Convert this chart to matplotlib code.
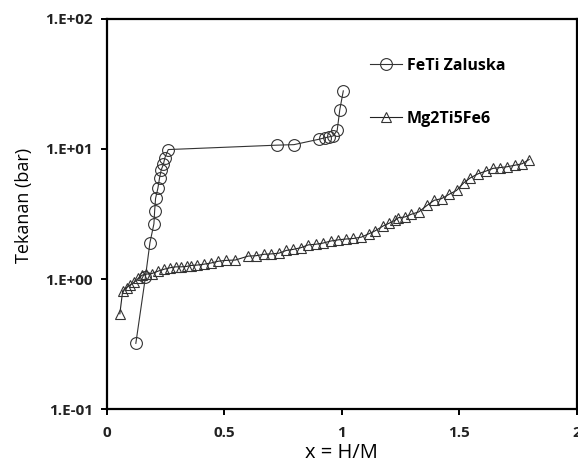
import matplotlib
matplotlib.use("Agg")
import matplotlib.pyplot as plt
from matplotlib.ticker import FixedLocator, NullLocator

# FeTi (Zaluska) absorption isotherm
feti_x = [0.123, 0.164, 0.183, 0.200, 0.203, 0.207, 0.217, 0.224, 0.231, 0.240,
          0.247, 0.261, 0.722, 0.796, 0.904, 0.928, 0.946, 0.963, 0.980, 0.991, 1.006]
feti_p = [0.32, 1.04, 1.9, 2.66, 3.33, 4.17, 5.0, 6.0, 6.9, 7.6,
          8.6, 9.9, 10.7, 10.8, 11.9, 12.2, 12.4, 12.6, 13.9, 20.0, 28.0]

# Mg2Ti5Fe6 absorption isotherm
mg_x = [0.055, 0.067, 0.084, 0.098, 0.115, 0.133, 0.150, 0.166, 0.190, 0.218,
        0.244, 0.268, 0.292, 0.315, 0.339, 0.356, 0.384, 0.413, 0.445, 0.474,
        0.506, 0.547, 0.601, 0.634, 0.669, 0.700, 0.732, 0.764, 0.793, 0.825,
        0.857, 0.888, 0.920, 0.953, 0.984, 1.017, 1.049, 1.083, 1.115, 1.140,
        1.176, 1.200, 1.226, 1.240, 1.268, 1.296, 1.327, 1.363, 1.393, 1.424,
        1.456, 1.488, 1.519, 1.547, 1.580, 1.613, 1.644, 1.675, 1.703, 1.736,
        1.767, 1.797]
mg_p = [0.54, 0.81, 0.86, 0.90, 0.94, 1.01, 1.07, 1.09, 1.10, 1.15,
        1.19, 1.22, 1.24, 1.24, 1.25, 1.27, 1.28, 1.30, 1.33, 1.37,
        1.39, 1.40, 1.50, 1.51, 1.55, 1.56, 1.58, 1.66, 1.69, 1.74,
        1.83, 1.85, 1.89, 1.96, 2.00, 2.03, 2.05, 2.10, 2.23, 2.34,
        2.56, 2.68, 2.83, 2.96, 3.00, 3.15, 3.28, 3.69, 4.03, 4.15,
        4.48, 4.80, 5.50, 6.00, 6.45, 6.76, 7.10, 7.20, 7.30, 7.50,
        7.70, 8.30]

x_ticks = [0, 0.5, 1, 1.5, 2]
x_tick_labels = ["0", "0.5", "1", "1.5", "2"]
y_ticks = [0.1, 1, 10, 100]
y_tick_labels = ["1.E-01", "1.E+00", "1.E+01", "1.E+02"]

plt.rcParams["font.family"] = ["Open Sans", "DejaVu Sans"]

fig = plt.figure(figsize=(5.78, 4.63), dpi=100)
ax = fig.add_axes([0.185, 0.1166, 0.813, 0.8424])

ax.plot(feti_x, feti_p, color="#333333", lw=0.8, marker="o", ms=8.5,
        mfc="none", mec="#333333", mew=0.8, label="FeTi Zaluska")
ax.plot(mg_x, mg_p, color="#222222", lw=0.8, marker="^", ms=6.5,
        mfc="none", mec="#333333", mew=0.8, label="Mg2Ti5Fe6")

ax.set_yscale("log")
ax.set_xlim(0, 2)
ax.set_ylim(0.1, 100)
ax.xaxis.set_major_locator(FixedLocator(x_ticks))
ax.yaxis.set_major_locator(FixedLocator(y_ticks))
ax.yaxis.set_minor_locator(NullLocator())
ax.set_xticklabels(x_tick_labels)
ax.set_yticklabels(y_tick_labels)

for s in ax.spines.values():
    s.set_linewidth(1.6)
    s.set_color("black")
ax.tick_params(axis="both", direction="out", length=4, width=1.4,
               labelsize=11, pad=6)
ax.tick_params(axis="x", pad=8)
for lab in ax.get_xticklabels() + ax.get_yticklabels():
    lab.set_fontweight("bold")
    lab.set_color("#222222")

ax.set_xlabel("x = H/M", fontsize=14.5)
ax.xaxis.set_label_coords(0.5, -0.088)
ax.set_ylabel("Tekanan (bar)", fontsize=13)
ax.yaxis.set_label_coords(-0.157, 0.523)

ax.legend(loc="upper left", bbox_to_anchor=(0.53, 0.938), frameon=False,
          handlelength=2.0, handletextpad=0.3, labelspacing=2.35,
          prop={"weight": "bold", "size": 11.5})

fig.savefig("out.png", dpi=100)
